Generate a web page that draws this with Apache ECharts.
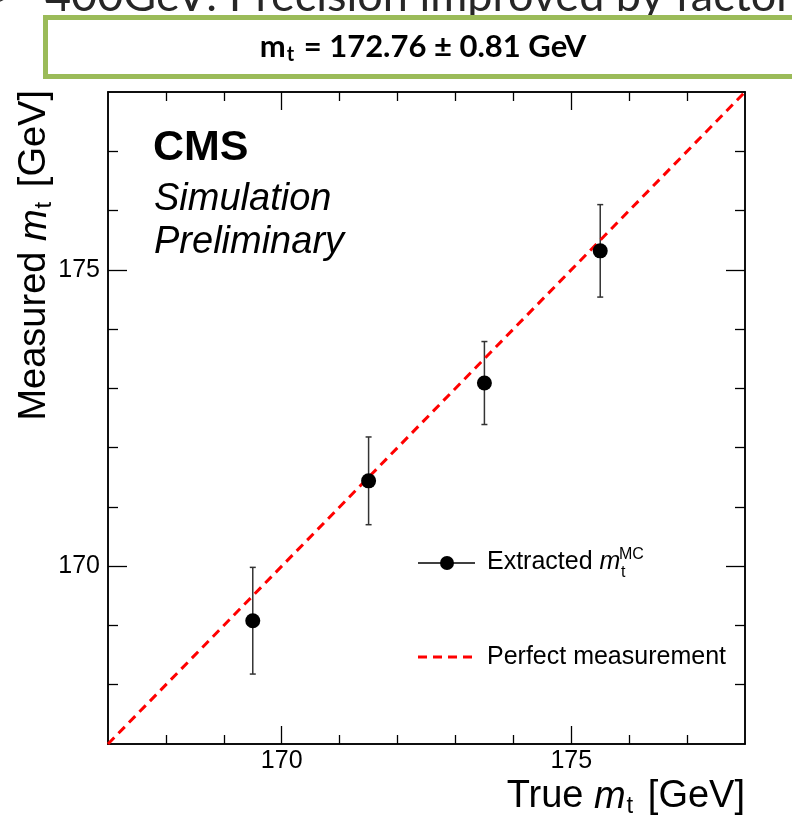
<!DOCTYPE html>
<html>
<head>
<meta charset="utf-8">
<title>Top quark mass calibration</title>
<script src="https://cdn.jsdelivr.net/npm/echarts@6/dist/echarts.min.js"></script>
<style>
  html, body { margin: 0; padding: 0; background: #ffffff; }
  #chart { width: 792px; height: 818px; }
</style>
</head>
<body>
<div id="chart"></div>
<script>
// Generated top mass points and the mass extracted from each sample
const trueMass = [169.5, 171.5, 173.5, 175.5];
const measuredMass = [169.08, 171.44, 173.09, 175.32];
const measuredErr = [0.90, 0.74, 0.70, 0.78];

// Perfect-measurement reference: measured = true
const perfectLine = [[167, 167], [178, 178]];

// Axis range and ticks (GeV)
const axisMin = 167;
const axisMax = 178;
const majorTicks = [170, 175];
const minorTicks = [168, 169, 171, 172, 173, 174, 176, 177];

const FONT = 'Liberation Sans, Arial, Helvetica, sans-serif';
const chart = echarts.init(document.getElementById('chart'), null, { renderer: 'canvas' });

const frame = { left: 108, top: 92, right: 745, bottom: 744 };

function makeAxis(position, ticks, tickLen, withLabels) {
  return {
    type: 'value',
    position: position,
    min: axisMin,
    max: axisMax,
    axisLine: { show: true, onZero: false, lineStyle: { color: '#000', width: 1.5 } },
    axisTick: {
      show: true, inside: true, length: tickLen, customValues: ticks,
      lineStyle: { color: '#000', width: 1.3 }
    },
    axisLabel: withLabels ? {
      show: true, customValues: ticks, color: '#000', fontFamily: FONT, fontSize: 25,
      margin: position === 'bottom' ? 5 : 8
    } : { show: false },
    splitLine: { show: false }
  };
}

const errorData = trueMass.map((x, i) => [x, measuredMass[i], measuredErr[i]]);
const pointData = trueMass.map((x, i) => [x, measuredMass[i]]);

const option = {
  backgroundColor: '#ffffff',
  animation: false,
  grid: {
    left: frame.left, top: frame.top,
    width: frame.right - frame.left, height: frame.bottom - frame.top,
    containLabel: false
  },
  xAxis: [
    makeAxis('bottom', majorTicks, 18, true),
    makeAxis('bottom', minorTicks, 9, false),
    makeAxis('top', majorTicks, 18, false),
    makeAxis('top', minorTicks, 9, false)
  ],
  yAxis: [
    makeAxis('left', majorTicks, 19, true),
    makeAxis('left', minorTicks, 10, false),
    makeAxis('right', majorTicks, 19, false),
    makeAxis('right', minorTicks, 10, false)
  ],
  series: [
    {
      name: 'Error bars',
      type: 'custom',
      xAxisIndex: 0, yAxisIndex: 0,
      z: 2,
      data: errorData,
      renderItem: function (params, api) {
        const x = api.value(0), y = api.value(1), e = api.value(2);
        const hi = api.coord([x, y + e]);
        const lo = api.coord([x, y - e]);
        const cap = 3;
        const st = { stroke: '#333', lineWidth: 1.5 };
        return {
          type: 'group',
          children: [
            { type: 'line', shape: { x1: hi[0], y1: hi[1], x2: lo[0], y2: lo[1] }, style: st },
            { type: 'line', shape: { x1: hi[0] - cap, y1: hi[1], x2: hi[0] + cap, y2: hi[1] }, style: st },
            { type: 'line', shape: { x1: lo[0] - cap, y1: lo[1], x2: lo[0] + cap, y2: lo[1] }, style: st }
          ]
        };
      }
    },
    {
      name: 'Perfect measurement',
      type: 'line',
      xAxisIndex: 0, yAxisIndex: 0,
      z: 3,
      data: perfectLine,
      showSymbol: false,
      symbol: 'none',
      lineStyle: { color: '#ff0000', width: 3, type: [9, 6] }
    },
    {
      name: 'Extracted',
      type: 'scatter',
      xAxisIndex: 0, yAxisIndex: 0,
      z: 4,
      data: pointData,
      symbol: 'circle',
      symbolSize: 15,
      itemStyle: { color: '#000', opacity: 1 }
    }
  ],
  graphic: [
    // slide heading, partly above the page edge
    {
      type: 'text', z: 10, x: 0, y: -6,
      style: { text: '▸', font: '30px DejaVu Sans', fill: '#262626', verticalAlign: 'middle' }
    },
    {
      type: 'text', z: 10, x: 45, y: -4,
      style: {
        text: '400GeV: Precision improved by factor',
        font: '45px Lato, "Open Sans", sans-serif', fill: '#262626', verticalAlign: 'middle'
      }
    },
    // result box
    {
      type: 'rect', z: 10,
      shape: { x: 45.5, y: 17.5, width: 800, height: 59 },
      style: { fill: '#ffffff', stroke: '#9bbb59', lineWidth: 5 }
    },
    {
      type: 'text', z: 11, x: 423, y: 47,
      style: {
        text: 'm{sub|t} = 172.76 ± 0.81 GeV',
        font: 'bold 31px Lato, sans-serif', fill: '#000', align: 'center', verticalAlign: 'middle',
        rich: {
          sub: { font: 'bold 20px Lato, sans-serif', fill: '#000', padding: [16, 2, 0, 1] }
        }
      }
    },
    // experiment label
    {
      type: 'text', z: 10, x: 153, y: 148,
      style: { text: 'CMS', font: 'bold 43px ' + FONT, fill: '#000', verticalAlign: 'middle' }
    },
    {
      type: 'text', z: 10, x: 154, y: 199,
      style: { text: 'Simulation', font: 'italic 38px ' + FONT, fill: '#000', verticalAlign: 'middle' }
    },
    {
      type: 'text', z: 10, x: 154, y: 242,
      style: { text: 'Preliminary', font: 'italic 38px ' + FONT, fill: '#000', verticalAlign: 'middle' }
    },
    // axis titles
    {
      type: 'text', z: 10, x: 745, y: 797,
      style: {
        text: 'True {it|m}{sub|t} [GeV]',
        font: '38px ' + FONT, fill: '#000', align: 'right', verticalAlign: 'middle',
        rich: {
          it: { font: 'italic 38px ' + FONT, fill: '#000' },
          sub: { font: '24px ' + FONT, fill: '#000', padding: [18, 4, 0, 1] }
        }
      }
    },
    {
      type: 'text', z: 10, x: 35, y: 90, rotation: Math.PI / 2,
      style: {
        text: 'Measured {it|m}{sub|t} [GeV]',
        font: '38px ' + FONT, fill: '#000', align: 'right', verticalAlign: 'middle',
        rich: {
          it: { font: 'italic 38px ' + FONT, fill: '#000' },
          sub: { font: '24px ' + FONT, fill: '#000', padding: [18, 4, 0, 1] }
        }
      }
    },
    // legend
    {
      type: 'line', z: 10,
      shape: { x1: 418, y1: 563, x2: 475, y2: 563 },
      style: { stroke: '#000', lineWidth: 1.5 }
    },
    {
      type: 'circle', z: 10,
      shape: { cx: 447, cy: 563, r: 7 },
      style: { fill: '#000' }
    },
    {
      type: 'text', z: 10, x: 487, y: 562,
      style: {
        text: 'Extracted {it|m}',
        font: '25px ' + FONT, fill: '#000', verticalAlign: 'middle',
        rich: { it: { font: 'italic 25px ' + FONT, fill: '#000' } }
      }
    },
    {
      type: 'text', z: 10, x: 621, y: 573,
      style: { text: 't', font: '16px ' + FONT, fill: '#000', verticalAlign: 'middle' }
    },
    {
      type: 'text', z: 10, x: 619, y: 555,
      style: { text: 'MC', font: '16px ' + FONT, fill: '#000', verticalAlign: 'middle' }
    },
    {
      type: 'line', z: 10,
      shape: { x1: 418, y1: 657, x2: 472, y2: 657 },
      style: { stroke: '#ff0000', lineWidth: 3, lineDash: [9, 6] }
    },
    {
      type: 'text', z: 10, x: 487, y: 657,
      style: { text: 'Perfect measurement', font: '25px ' + FONT, fill: '#000', verticalAlign: 'middle' }
    }
  ]
};

chart.setOption(option);
</script>
</body>
</html>
